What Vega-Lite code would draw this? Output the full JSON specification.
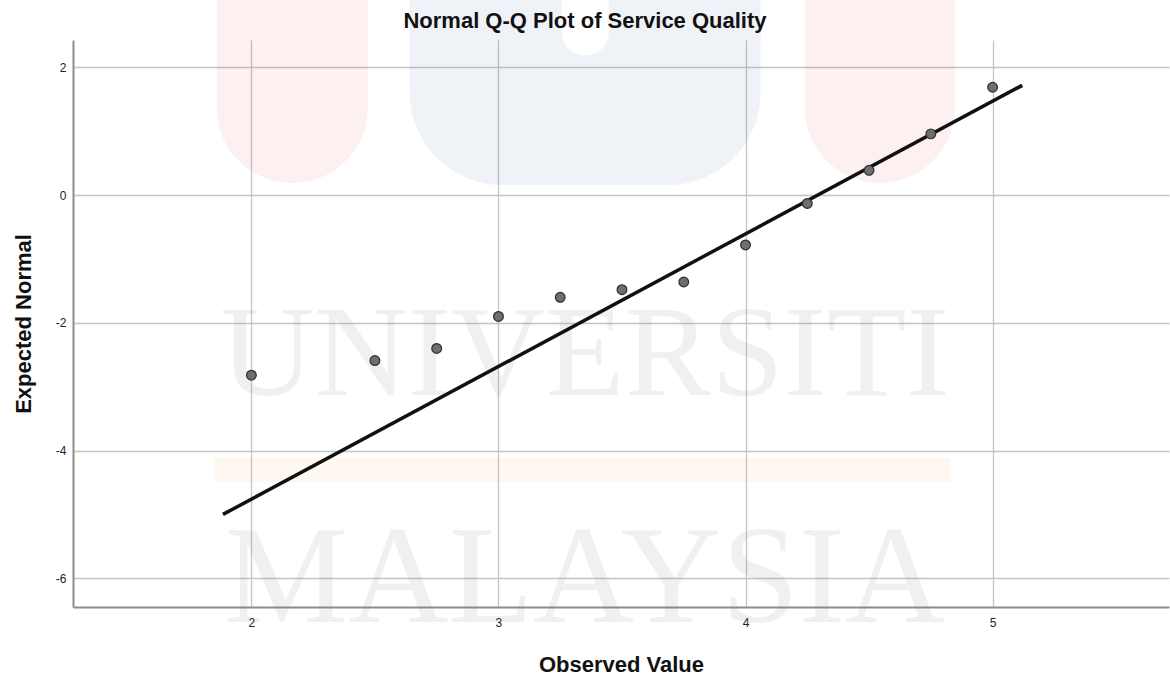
{
  "$schema": "https://vega.github.io/schema/vega-lite/v6.json",
  "width": 1096,
  "height": 567,
  "autosize": {"type": "none"},
  "padding": {"left": 73, "top": 40, "right": 1, "bottom": 72},
  "background": "white",
  "config": {
    "view": {"stroke": null},
    "font": "Liberation Sans",
    "axis": {
      "domainColor": "#8c8c8c",
      "domainWidth": 2,
      "gridColor": "#c4c4c4",
      "gridWidth": 1.3,
      "ticks": false,
      "labelFont": "Liberation Sans",
      "labelFontSize": 12,
      "labelColor": "#222222",
      "titleFont": "Liberation Sans",
      "titleFontSize": 22,
      "titleFontWeight": "bold",
      "titleColor": "#111111"
    }
  },
  "title": {
    "text": "Normal Q-Q Plot of Service Quality",
    "font": "Liberation Sans",
    "fontSize": 22,
    "fontWeight": "bold",
    "color": "#111111",
    "anchor": "middle",
    "frame": "group",
    "baseline": "alphabetic",
    "offset": 11,
    "dx": -36,
    "dy": 61
  },
  "datasets": {
    "points": [
      {"observed": 2.0, "expected": -2.82},
      {"observed": 2.5, "expected": -2.59},
      {"observed": 2.75, "expected": -2.40},
      {"observed": 3.0, "expected": -1.90},
      {"observed": 3.25, "expected": -1.60},
      {"observed": 3.5, "expected": -1.48},
      {"observed": 3.75, "expected": -1.36},
      {"observed": 4.0, "expected": -0.78},
      {"observed": 4.25, "expected": -0.13},
      {"observed": 4.5, "expected": 0.39},
      {"observed": 4.75, "expected": 0.96},
      {"observed": 5.0, "expected": 1.69}
    ],
    "refline": [
      {"observed": 1.885, "expected": -5.0},
      {"observed": 5.12, "expected": 1.72}
    ],
    "wm_red": [
      {"x1": 1.860, "x2": 2.471, "y1": 3.056, "y2": 0.19},
      {"x1": 4.240, "x2": 4.847, "y1": 3.056, "y2": 0.19}
    ],
    "wm_blue": [
      {"x1": 2.641, "x2": 4.061, "y1": 3.056, "y2": 0.16}
    ],
    "wm_notch": [
      {"x1": 3.256, "x2": 3.447, "y1": 3.056, "y2": 2.19}
    ],
    "wm_orange": [
      {"x1": 1.851, "x2": 4.831, "y1": -4.11, "y2": -4.50}
    ],
    "wm_text": [
      {"label": "UNIVERSITI", "x": 3.35, "y": -3.125, "fs": 130},
      {"label": "MALAYSIA", "x": 3.35, "y": -6.69, "fs": 139}
    ]
  },
  "encoding": {
    "x": {
      "field": "observed",
      "type": "quantitative",
      "scale": {"domain": [1.278, 5.714], "nice": false, "zero": false},
      "axis": {"values": [2, 3, 4, 5], "grid": true, "title": "Observed Value", "labelPadding": 10, "titlePadding": 26}
    },
    "y": {
      "field": "expected",
      "type": "quantitative",
      "scale": {"domain": [-6.45, 2.43], "nice": false, "zero": false},
      "axis": {"values": [-6, -4, -2, 0, 2], "grid": true, "title": "Expected Normal", "labelPadding": 7, "titlePadding": 20, "labelExpr": "replace(datum.label, '\u2212', '-')"}
    }
  },
  "layer": [
    {
      "data": {"name": "wm_red"},
      "mark": {"type": "rect", "fill": "#e53935", "opacity": 0.075, "clip": false, "cornerRadiusBottomLeft": 75, "cornerRadiusBottomRight": 75},
      "encoding": {
        "x": {"field": "x1", "type": "quantitative"},
        "x2": {"field": "x2"},
        "y": {"field": "y1", "type": "quantitative"},
        "y2": {"field": "y2"}
      }
    },
    {
      "data": {"name": "wm_blue"},
      "mark": {"type": "rect", "fill": "#4a7fb0", "opacity": 0.09, "clip": false, "cornerRadiusBottomLeft": 120, "cornerRadiusBottomRight": 120},
      "encoding": {
        "x": {"field": "x1", "type": "quantitative"},
        "x2": {"field": "x2"},
        "y": {"field": "y1", "type": "quantitative"},
        "y2": {"field": "y2"}
      }
    },
    {
      "data": {"name": "wm_notch"},
      "mark": {"type": "rect", "fill": "#ffffff", "opacity": 1, "clip": false, "cornerRadiusBottomLeft": 23, "cornerRadiusBottomRight": 23},
      "encoding": {
        "x": {"field": "x1", "type": "quantitative"},
        "x2": {"field": "x2"},
        "y": {"field": "y1", "type": "quantitative"},
        "y2": {"field": "y2"}
      }
    },
    {
      "data": {"name": "wm_orange"},
      "mark": {"type": "rect", "fill": "#f5a040", "opacity": 0.08, "clip": false},
      "encoding": {
        "x": {"field": "x1", "type": "quantitative"},
        "x2": {"field": "x2"},
        "y": {"field": "y1", "type": "quantitative"},
        "y2": {"field": "y2"}
      }
    },
    {
      "data": {"name": "wm_text"},
      "mark": {"type": "text", "font": "Liberation Serif", "color": "#808080", "opacity": 0.11, "align": "center", "baseline": "alphabetic", "clip": false},
      "encoding": {
        "x": {"field": "x", "type": "quantitative"},
        "y": {"field": "y", "type": "quantitative"},
        "text": {"field": "label"},
        "size": {"field": "fs", "type": "quantitative", "scale": null}
      }
    },
    {
      "data": {"name": "refline"},
      "mark": {"type": "line", "color": "#111111", "strokeWidth": 3.5, "strokeCap": "butt"},
      "encoding": {}
    },
    {
      "data": {"name": "points"},
      "mark": {"type": "point", "filled": true, "fill": "#6e6e6e", "stroke": "#2e2e2e", "strokeWidth": 1.2, "opacity": 1, "size": 95},
      "encoding": {}
    }
  ]
}
